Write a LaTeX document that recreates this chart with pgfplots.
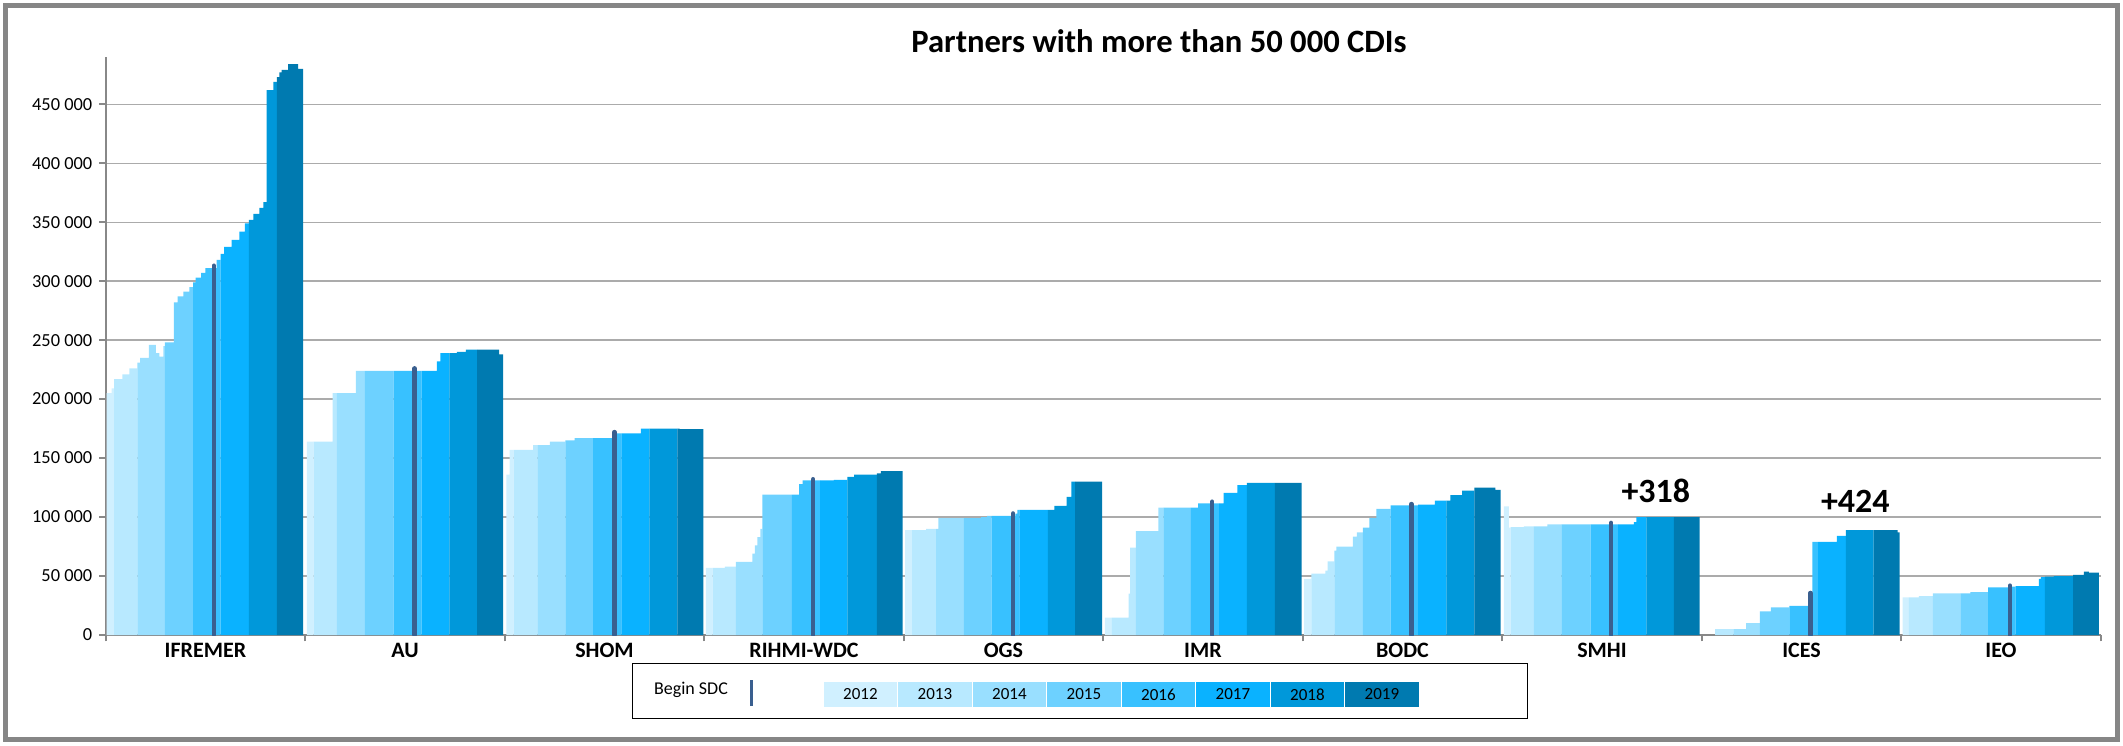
\documentclass[border=0pt]{standalone}
\usepackage{pgfplots}
\pgfplotsset{compat=1.18}
\usepackage{fontspec}
\setmainfont{Carlito}

\definecolor{c2012}{HTML}{D0F0FF}
\definecolor{c2013}{HTML}{B8E9FF}
\definecolor{c2014}{HTML}{99DFFF}
\definecolor{c2015}{HTML}{6DD1FF}
\definecolor{c2016}{HTML}{38C1FF}
\definecolor{c2017}{HTML}{0AB2FF}
\definecolor{c2018}{HTML}{0098DA}
\definecolor{c2019}{HTML}{007AB0}
\definecolor{sdc}{HTML}{3A5F8F}
\definecolor{gridc}{HTML}{ABABAB}
\definecolor{axc}{HTML}{888888}
\definecolor{framec}{HTML}{868686}

\pgfplotsset{
  y2012/.style={const plot, fill=c2012, draw=none},
  y2013/.style={const plot, fill=c2013, draw=none},
  y2014/.style={const plot, fill=c2014, draw=none},
  y2015/.style={const plot, fill=c2015, draw=none},
  y2016/.style={const plot, fill=c2016, draw=none},
  y2017/.style={const plot, fill=c2017, draw=none},
  y2018/.style={const plot, fill=c2018, draw=none},
  y2019/.style={const plot, fill=c2019, draw=none},
  begin sdc/.style={ycomb, sdc, line width=2.3pt, line cap=round},
}

\begin{document}
\begin{tikzpicture}[x=1pt,y=1pt]
\useasboundingbox (0,0) rectangle (1061.5,372.5);
\draw[framec, line width=2.5pt] (2.75,2.75) rectangle (1058.75,369.75);

\begin{axis}[
  at={(52.85pt,55pt)}, anchor=south west,
  scale only axis, width=997.5pt, height=289pt,
  xmin=0, xmax=1000, ymin=0, ymax=490000,
  axis lines=left, axis line style={-, axc, line width=0.8pt},
  tick align=outside, major tick length=3.2pt,
  tick style={axc, line width=0.8pt},
  xtick={0,100,...,1000},
  xticklabels={IFREMER,AU,SHOM,RIHMI-WDC,OGS,IMR,BODC,SMHI,ICES,IEO,{}},
  x tick label style={font=\fontsize{11}{13}\selectfont\bfseries, anchor=north, xshift=49.875pt, yshift=2.5pt},
  ytick={0,50000,...,450000},
  scaled y ticks=false,
  /pgf/number format/assume math mode=true,
  yticklabel style={font=\fontsize{9.2}{11}\selectfont, /pgf/number format/.cd, fixed, 1000 sep={\ }},
  ymajorgrids, grid style={gridc, line width=0.65pt},
  clip=true,
]
% IFREMER
\addplot[y2012] coordinates {(0.5,205000) (3.0,209000) (4.2,209000)} \closedcycle;
\addplot[y2013] coordinates {(4.2,217000) (8.4,221000) (11.9,226000) (15.9,226000)} \closedcycle;
\addplot[y2014] coordinates {(15.9,231000) (17.2,235000) (21.7,246000) (25.2,239000) (26.9,236000) (28.9,245000) (29.7,245000)} \closedcycle;
\addplot[y2015] coordinates {(29.7,248000) (34.2,282000) (36.1,287000) (38.9,291000) (41.9,295000) (43.8,295000)} \closedcycle;
\addplot[y2016] coordinates {(43.8,299000) (45.1,303000) (47.8,307000) (49.9,311000) (55.6,318000) (57.6,318000)} \closedcycle;
\addplot[y2017] coordinates {(57.6,323000) (59.3,329000) (63.1,335000) (67.0,342000) (69.8,349000) (71.8,349000)} \closedcycle;
\addplot[y2018] coordinates {(71.8,352000) (74.0,357000) (77.0,362000) (79.0,367000) (80.7,462000) (84.0,469000) (85.8,469000)} \closedcycle;
\addplot[y2019] coordinates {(85.8,473000) (87.0,477000) (88.2,479000) (91.5,484000) (96.5,480000) (99.0,480000)} \closedcycle;
\addplot[begin sdc] coordinates {(54.2,313000)};
% AU
\addplot[y2012] coordinates {(100.8,164000) (104.2,164000)} \closedcycle;
\addplot[y2013] coordinates {(104.2,164000) (113.7,205000) (115.9,205000)} \closedcycle;
\addplot[y2014] coordinates {(115.9,205000) (125.4,224000) (129.9,224000)} \closedcycle;
\addplot[y2015] coordinates {(129.9,224000) (144.3,224000)} \closedcycle;
\addplot[y2016] coordinates {(144.3,224000) (158.3,224000)} \closedcycle;
\addplot[y2017] coordinates {(158.3,224000) (166.0,232000) (167.7,239000) (172.3,239000)} \closedcycle;
\addplot[y2018] coordinates {(172.3,239000) (176.0,240000) (180.5,242000) (186.2,242000)} \closedcycle;
\addplot[y2019] coordinates {(186.2,242000) (197.2,238000) (199.2,238000)} \closedcycle;
\addplot[begin sdc] coordinates {(154.9,226000)};
% SHOM
\addplot[y2012] coordinates {(200.8,136000) (202.5,157000) (204.5,157000)} \closedcycle;
\addplot[y2013] coordinates {(204.5,157000) (214.2,161000) (216.4,161000)} \closedcycle;
\addplot[y2014] coordinates {(216.4,161000) (222.6,164000) (230.4,164000)} \closedcycle;
\addplot[y2015] coordinates {(230.4,165000) (235.1,167000) (244.3,167000)} \closedcycle;
\addplot[y2016] coordinates {(244.3,167000) (256.0,171000) (258.5,171000)} \closedcycle;
\addplot[y2017] coordinates {(258.5,171000) (268.2,175000) (272.5,175000)} \closedcycle;
\addplot[y2018] coordinates {(272.5,175000) (286.5,175000)} \closedcycle;
\addplot[y2019] coordinates {(286.5,175000) (287.7,174500) (299.6,174500)} \closedcycle;
\addplot[begin sdc] coordinates {(255.0,172000)};
% RIHMI-WDC
\addplot[y2012] coordinates {(300.8,57000) (304.2,57000)} \closedcycle;
\addplot[y2013] coordinates {(304.2,57000) (310.4,58000) (315.9,58000)} \closedcycle;
\addplot[y2014] coordinates {(315.9,62000) (324.2,69000) (325.4,76000) (326.7,83000) (328.1,90000) (329.2,90000)} \closedcycle;
\addplot[y2015] coordinates {(329.2,119000) (343.9,119000)} \closedcycle;
\addplot[y2016] coordinates {(343.9,119000) (347.6,128000) (349.3,131000) (358.1,131000)} \closedcycle;
\addplot[y2017] coordinates {(358.1,131000) (365.0,131500) (371.8,131500)} \closedcycle;
\addplot[y2018] coordinates {(371.8,134000) (375.2,136000) (386.5,136000)} \closedcycle;
\addplot[y2019] coordinates {(386.5,137000) (388.5,139000) (399.4,139000)} \closedcycle;
\addplot[begin sdc] coordinates {(354.6,132000)};
% OGS
\addplot[y2012] coordinates {(400.7,89000) (404.2,89000)} \closedcycle;
\addplot[y2013] coordinates {(404.2,89000) (411.2,90000) (416.2,90000)} \closedcycle;
\addplot[y2014] coordinates {(416.2,90000) (417.4,99000) (430.2,99000)} \closedcycle;
\addplot[y2015] coordinates {(430.2,99000) (438.8,100000) (441.8,101000) (444.1,101000)} \closedcycle;
\addplot[y2016] coordinates {(444.1,101000) (456.0,103000) (457.0,106000) (458.0,106000)} \closedcycle;
\addplot[y2017] coordinates {(458.0,106000) (472.2,106000)} \closedcycle;
\addplot[y2018] coordinates {(472.2,106000) (475.5,109500) (481.7,117000) (484.0,130000) (485.9,130000)} \closedcycle;
\addplot[y2019] coordinates {(485.9,130000) (499.4,130000)} \closedcycle;
\addplot[begin sdc] coordinates {(454.8,103000)};
% IMR
\addplot[y2012] coordinates {(500.8,14700) (504.3,14700)} \closedcycle;
\addplot[y2013] coordinates {(504.3,14700) (512.7,35000) (513.5,74000) (516.4,74000)} \closedcycle;
\addplot[y2014] coordinates {(516.4,88000) (527.6,108000) (530.1,108000)} \closedcycle;
\addplot[y2015] coordinates {(530.1,108000) (543.9,108000)} \closedcycle;
\addplot[y2016] coordinates {(543.9,108000) (547.6,111500) (558.1,111500)} \closedcycle;
\addplot[y2017] coordinates {(558.1,111500) (560.3,120500) (567.3,127000) (572.0,127000)} \closedcycle;
\addplot[y2018] coordinates {(572.0,129000) (586.0,129000)} \closedcycle;
\addplot[y2019] coordinates {(586.0,129000) (599.4,129000)} \closedcycle;
\addplot[begin sdc] coordinates {(554.6,113000)};
% BODC
\addplot[y2012] coordinates {(600.7,47500) (604.3,47500)} \closedcycle;
\addplot[y2013] coordinates {(604.3,52000) (611.4,54600) (612.5,62500) (615.9,62500)} \closedcycle;
\addplot[y2014] coordinates {(615.9,71600) (616.9,75000) (625.2,83500) (627.2,87000) (630.1,87000)} \closedcycle;
\addplot[y2015] coordinates {(630.1,91000) (633.4,99000) (636.9,107000) (644.0,107000)} \closedcycle;
\addplot[y2016] coordinates {(644.0,110000) (657.8,110000)} \closedcycle;
\addplot[y2017] coordinates {(657.8,110500) (666.2,114000) (672.0,114000)} \closedcycle;
\addplot[y2018] coordinates {(672.0,114000) (674.0,118500) (679.9,122500) (686.0,122500)} \closedcycle;
\addplot[y2019] coordinates {(686.0,125000) (696.6,123000) (699.2,123000)} \closedcycle;
\addplot[begin sdc] coordinates {(654.5,111000)};
% SMHI
\addplot[y2012] coordinates {(700.8,109000) (703.3,91000) (704.2,91000)} \closedcycle;
\addplot[y2013] coordinates {(704.2,91400) (710.9,92000) (715.9,92000)} \closedcycle;
\addplot[y2014] coordinates {(715.9,92000) (722.6,93700) (729.6,93700)} \closedcycle;
\addplot[y2015] coordinates {(729.6,93700) (744.3,93700)} \closedcycle;
\addplot[y2016] coordinates {(744.3,93700) (758.1,93700)} \closedcycle;
\addplot[y2017] coordinates {(758.1,93700) (766.0,95600) (767.2,100000) (772.2,100000)} \closedcycle;
\addplot[y2018] coordinates {(772.2,100000) (786.0,100000)} \closedcycle;
\addplot[y2019] coordinates {(786.0,100000) (798.9,100000)} \closedcycle;
\addplot[begin sdc] coordinates {(754.6,95000)};
% ICES
\addplot[y2013] coordinates {(806.7,5000) (815.9,5000)} \closedcycle;
\addplot[y2014] coordinates {(815.9,5000) (822.2,10000) (829.2,10000)} \closedcycle;
\addplot[y2015] coordinates {(829.2,20000) (834.7,23500) (843.9,23500)} \closedcycle;
\addplot[y2016] coordinates {(843.9,24600) (855.5,79000) (858.3,79000)} \closedcycle;
\addplot[y2017] coordinates {(858.3,79000) (867.7,84000) (872.3,84000)} \closedcycle;
\addplot[y2018] coordinates {(872.3,89000) (886.2,89000)} \closedcycle;
\addplot[y2019] coordinates {(886.2,89000) (898.2,87000) (899.2,87000)} \closedcycle;
\addplot[begin sdc] coordinates {(854.5,35600)};
% IEO
\addplot[y2012] coordinates {(900.7,32000) (903.8,32000)} \closedcycle;
\addplot[y2013] coordinates {(903.8,32000) (908.9,33000) (915.9,33000)} \closedcycle;
\addplot[y2014] coordinates {(915.9,35300) (929.7,35300)} \closedcycle;
\addplot[y2015] coordinates {(929.7,35300) (934.7,36400) (943.6,36400)} \closedcycle;
\addplot[y2016] coordinates {(943.6,40400) (955.5,41000) (957.3,41000)} \closedcycle;
\addplot[y2017] coordinates {(957.3,41500) (969.0,47500) (970.0,49000) (972.0,49000)} \closedcycle;
\addplot[y2018] coordinates {(972.0,49400) (976.5,50000) (986.2,50000)} \closedcycle;
\addplot[y2019] coordinates {(986.2,51000) (991.5,53700) (994.1,52800) (999.1,52800)} \closedcycle;
\addplot[begin sdc] coordinates {(954.5,41800)};

\node[font=\fontsize{17}{20}\selectfont\bfseries] at (axis cs:777,122000) {+318};
\node[font=\fontsize{17}{20}\selectfont\bfseries] at (axis cs:877,113000) {+424};
\end{axis}

\node[font=\fontsize{16.3}{19}\selectfont\bfseries] at (579.5,352) {Partners with more than 50 000 CDIs};

% legend
\draw[black, line width=0.5pt] (316,13.5) rectangle (763.5,41);
\node[font=\fontsize{9}{11}\selectfont] at (345.5,27.5) {Begin SDC};
\draw[sdc, line width=1.5pt] (375.7,19.5) -- (375.7,32.5);
\foreach \yr [count=\i from 0] in {2012,2013,2014,2015,2016,2017,2018,2019} {
  \fill[c\yr, draw=white, line width=0.6pt] (411.6+37.25*\i,18.5) rectangle ++(37.25,13.5);
  \node[font=\fontsize{8.5}{10}\selectfont] at (411.6+37.25*\i+18.6,25.25) {\yr};
}
\end{tikzpicture}
\end{document}
